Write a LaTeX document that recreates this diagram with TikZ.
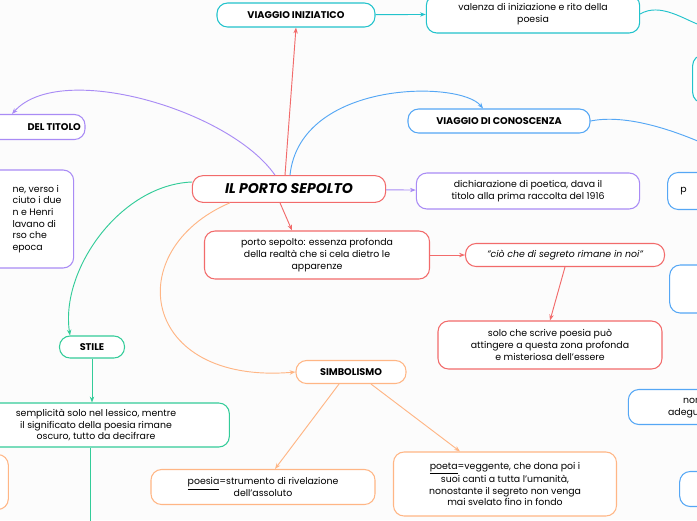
\documentclass[tikz,border=0pt]{standalone}
\usepackage{fontspec}
\setmainfont{Poppins}
\usetikzlibrary{arrows.meta, calc}
\definecolor{cteal}{HTML}{22C3CC}
\definecolor{cpurple}{HTML}{A98BF5}
\definecolor{cred}{HTML}{F26B6B}
\definecolor{cblue}{HTML}{55A7F5}
\definecolor{cgreen}{HTML}{33CC99}
\definecolor{corange}{HTML}{FFB685}
\tikzset{
    topic/.style={rectangle, rounded corners=9pt, draw=#1, line width=0.9pt, fill=white,
        align=center, font=\fontsize{8}{10}\selectfont, inner sep=2pt},
    head/.style={font=\fontsize{8.3}{10}\selectfont\bfseries},
    line/.style={draw=#1, line width=0.8pt, -{Stealth[length=5pt]}}
}

\begin{document}
\begin{tikzpicture}[x=0.03cm, y=-0.03cm]
    \useasboundingbox (0,0) rectangle (697,520);
    \fill[white!98!gray] (0,0) rectangle (697,520);
    \clip (0,0) rectangle (697,520);

    \node[topic=cred, minimum width=5.8cm, minimum height=0.8cm,
          font=\fontsize{12}{14}\selectfont\bfseries\itshape] (root) at (289,189) {IL PORTO SEPOLTO};
    \node[topic=cteal, minimum width=4.74cm, minimum height=0.72cm, head] (iniz) at (296,15) {VIAGGIO INIZIATICO};
    \node[topic=cteal, minimum width=6.4cm, minimum height=1.14cm] (valenza) at (533,14) {valenza di iniziazione e rito della\\poesia};
    \node[topic=cteal, minimum width=2cm, minimum height=1.44cm] (tealr) at (726,79) {};
    \node[topic=cpurple, minimum width=3.6cm, minimum height=0.75cm, head, align=left] (titolo) at (25,127) {\hspace*{1.75cm}DEL TITOLO};
    \node[topic=cpurple, minimum width=4cm, minimum height=2.94cm, align=left] (titolotxt) at (7,219)
        {\hspace*{1.8cm}ne, verso i\\\hspace*{1.8cm}ciuto i due\\\hspace*{1.8cm}n e Henri\\\hspace*{1.8cm}lavano di\\\hspace*{1.8cm}rso che\\\hspace*{1.8cm}epoca};
    \node[topic=cblue, minimum width=5.46cm, minimum height=0.72cm, head] (conosc) at (499,121) {VIAGGIO DI CONOSCENZA};
    \node[topic=cpurple, minimum width=6.7cm, minimum height=1.08cm] (dich) at (528,191) {dichiarazione di poetica, dava il\\titolo alla prima raccolta del 1916};
    \node[topic=cblue, minimum width=2cm, minimum height=1.11cm, align=left] (bluer1) at (701,191) {\hspace*{-1.05cm}p};
    \node[topic=cred, minimum width=6.75cm, minimum height=1.44cm] (sepolto) at (317,255) {porto sepolto: essenza profonda\\della realtà che si cela dietro le\\apparenze};
    \node[topic=cred, minimum width=5.97cm, minimum height=0.69cm, font=\fontsize{8}{10}\selectfont\itshape] (segreto) at (565,255) {"ciò che di segreto rimane in noi"};
    \node[topic=cred, minimum width=6.72cm, minimum height=1.44cm] (solo) at (550,345) {solo che scrive poesia può\\attingere a questa zona profonda\\e misteriosa dell'essere};
    \node[topic=cblue, minimum width=2cm, minimum height=1.44cm] (bluer2) at (703,289) {};
    \node[topic=cblue, minimum width=3.4cm, minimum height=1.05cm, align=left] (blue3) at (685,407) {\hspace*{0.85cm}non rie\\\hspace*{0.4cm}adegua};
    \node[topic=cblue, minimum width=2cm, minimum height=1.05cm] (bluer4) at (713,489) {};
    \node[topic=cgreen, minimum width=1.95cm, minimum height=0.66cm, head] (stile) at (92,347) {STILE};
    \node[topic=cgreen, minimum width=8cm, minimum height=1.32cm] (sempl) at (96,425) {semplicità solo nel lessico, mentre\\il significato della poesia rimane\\oscuro, tutto da decifrare};
    \node[topic=corange, minimum width=3.3cm, minimum height=0.69cm, head] (simb) at (351,372) {SIMBOLISMO};
    \node[topic=corange, minimum width=6.72cm, minimum height=1.05cm] (poesia) at (263,487) {\underline{poesia}=strumento di rivelazione\\dell'assoluto};
    \node[topic=corange, minimum width=6.69cm, minimum height=1.92cm] (poeta) at (505,484) {\underline{poeta}=veggente, che dona poi i\\suoi canti a tutta l'umanità,\\nonostante il segreto non venga\\mai svelato fino in fondo};
    \node[topic=corange, minimum width=2cm, minimum height=1.65cm] (oranl) at (-25,482) {};
    \coordinate (offa) at (700,25);
    \coordinate (offb) at (700,142);
    \coordinate (offc) at (90,525);
    \coordinate (titin) at (12,114);

    \draw[line=cred] ($(root.north)+(-4,0)$) -- (iniz.south);
    \draw[line=cteal] (iniz) -- (valenza);
    \draw[cteal, line width=0.8pt] (valenza.east) .. controls (660,2) and (685,20) .. (offa);
    \draw[line=cpurple] ($(root.north)+(-14,0)$) .. controls (230,110) and (60,60) .. (titin);
    \draw[line=cblue] ($(root.north)+(1,0)$) .. controls (300,80) and (460,80) .. ($(conosc.north)+(-16,0)$);
    \draw[cblue, line width=0.8pt] (conosc.east) .. controls (620,115) and (660,125) .. (offb);
    \draw[line=cpurple] (root) -- (dich);
    \draw[line=cred] ($(root.south)+(-9,0)$) -- ($(sepolto.north)+(-25,0)$);
    \draw[line=cred] (sepolto) -- (segreto);
    \draw[line=cred] (segreto.south) -- (solo.north);
    \draw[line=cgreen] ($(root.west)+(0,-7)$) .. controls (120,185) and (60,270) .. ($(stile.north)+(-22,0)$);
    \draw[line=cgreen] (stile.south) -- (sempl.north -| stile.south);
    \draw[cgreen, line width=0.8pt] (sempl.south -| offc) -- (offc);
    \draw[line=corange] ($(root.south west)+(38,0)$) .. controls (120,250) and (140,385) .. (simb.west);
    \draw[line=corange] ($(simb.south)+(-12,0)$) -- ($(poesia.north)+(12,0)$);
    \draw[line=corange] ($(simb.south)+(20,0)$) -- ($(poeta.north)+(-45,0)$);
\end{tikzpicture}
\end{document}
